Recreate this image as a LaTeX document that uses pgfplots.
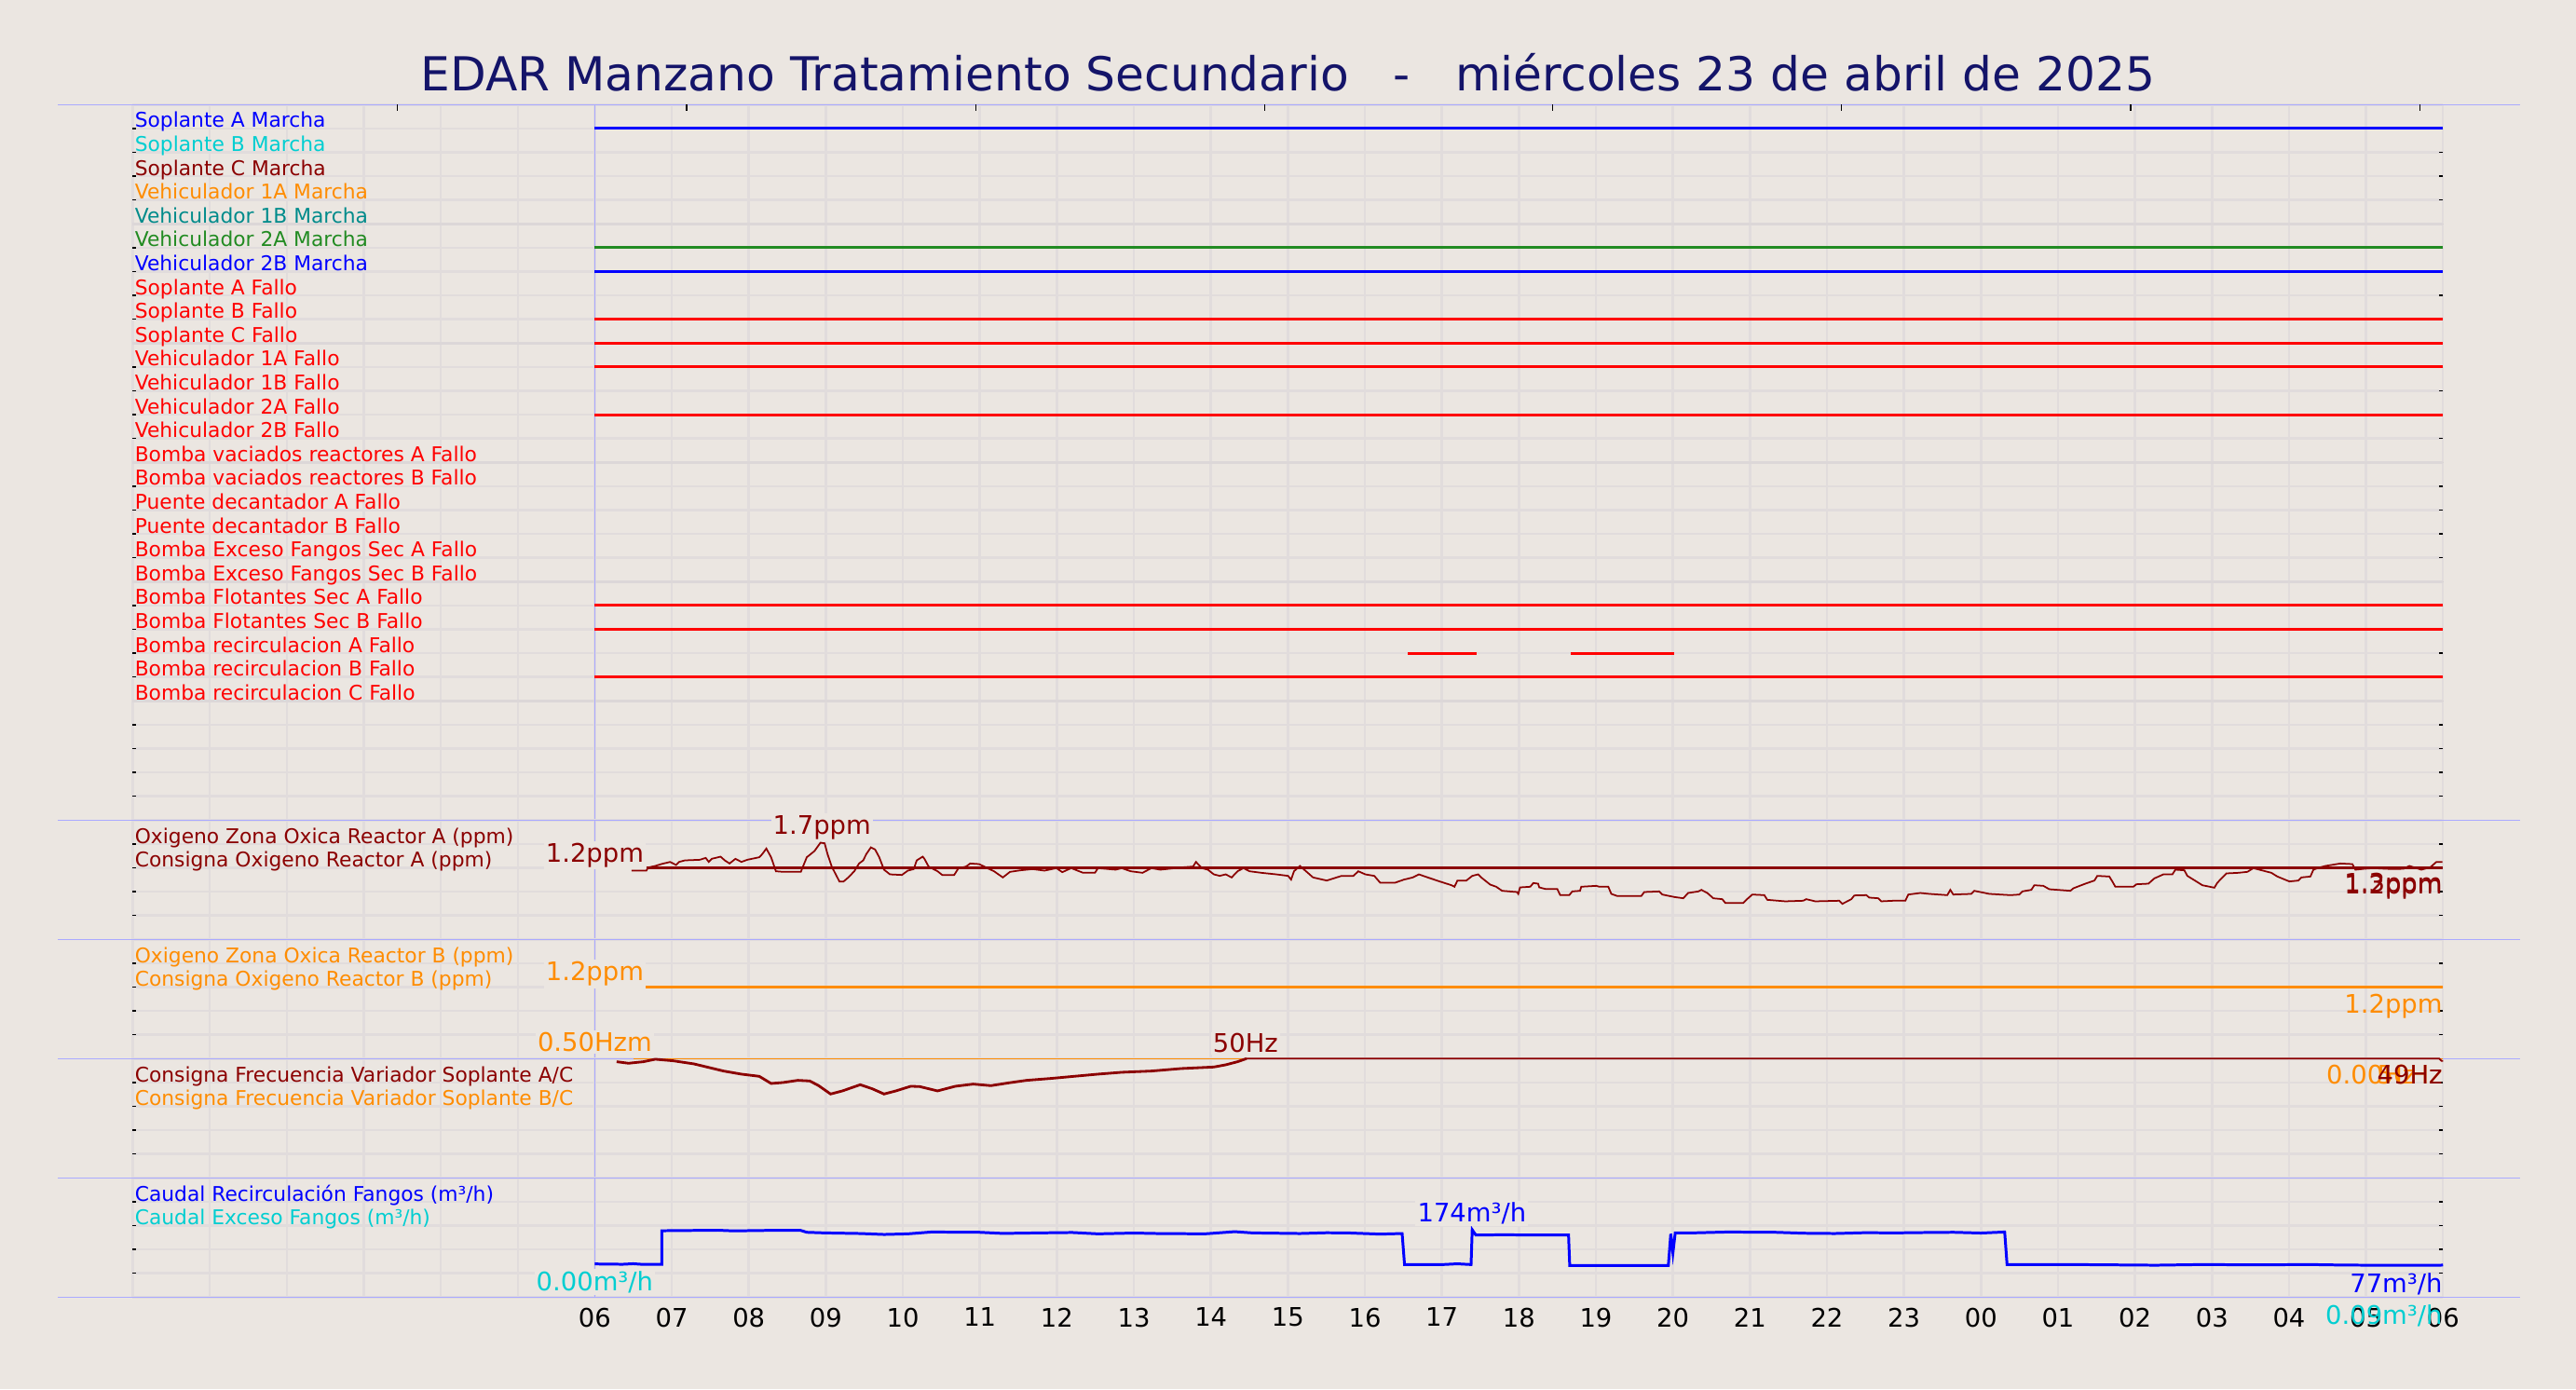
\documentclass[border=0pt]{standalone}
\usepackage{pgfplots}
\pgfplotsset{compat=1.18}
\usepackage{fontspec}
\setmainfont{DejaVu Sans}
\definecolor{bgc}{RGB}{235,230,225}
\definecolor{gridc}{RGB}{225,220,220}
\definecolor{gridm}{RGB}{220,215,216}
\definecolor{sepc}{RGB}{170,170,255}
\definecolor{dred}{RGB}{139,0,0}
\definecolor{dorange}{RGB}{255,140,0}
\definecolor{dturq}{RGB}{0,206,209}
\definecolor{dcyan}{RGB}{0,139,139}
\definecolor{fgreen}{RGB}{34,139,34}
\definecolor{titc}{RGB}{20,20,105}
\newcommand{\lab}{\fontsize{6.2pt}{7pt}\selectfont}
\newcommand{\ann}{\fontsize{7.8pt}{9pt}\selectfont}
\pgfplotsset{
  panel/.style={
    scale only axis, width=24.798cm, anchor=south west,
    xmin=-6, xmax=24, clip=false,
    axis line style={draw=none},
    xtick={-6,...,24}, xticklabels={},
    grid=major, grid style={gridc, line width=0.7pt},
    xtick style={draw=none},
    ytick pos=both, ytick style={black, line width=0.35pt},
    major tick length=0.4mm,
    yticklabels={},
  },
}
\tikzset{
  lbl/.style={anchor=base west, inner sep=0pt, font=\lab},
  ann/.style={inner sep=0.6pt, font=\ann},
  sig/.style={line width=0.85pt},
}
\begin{document}
\begin{tikzpicture}
\fill[bgc] (0,0) rectangle (27.65,14.91);
\node[anchor=base, inner sep=0pt, font=\fontsize{14.3pt}{17pt}\selectfont, text=titc] at (13.825,13.93) {EDAR Manzano Tratamiento Secundario\ \ \ -\ \ \ miércoles 23 de abril de 2025};

% ---------------- Panel 1: digital signals ----------------
\begin{axis}[panel, at={(1.4244cm,6.107cm)}, height=7.68cm, ymin=0, ymax=30, ytick={0,...,30}]
\draw[gridm, line width=0.95pt] (axis cs:-6,25) -- (axis cs:24,25);
\draw[gridm, line width=0.95pt] (axis cs:-6,20) -- (axis cs:24,20);
\draw[gridm, line width=0.95pt] (axis cs:-6,15) -- (axis cs:24,15);
\draw[gridm, line width=0.95pt] (axis cs:-6,10) -- (axis cs:24,10);
\draw[gridm, line width=0.95pt] (axis cs:-6,5) -- (axis cs:24,5);
\draw[sepc, line width=0.45pt] (rel axis cs:-0.0323,1) -- (rel axis cs:1.0333,1);
\draw[sepc, line width=0.4pt] (rel axis cs:0.2,0) -- (rel axis cs:0.2,1);
\draw[black, line width=0.35pt] (axis cs:-2.561,30) -- ++(0pt,-0.7mm);
\draw[black, line width=0.35pt] (axis cs:1.194,30) -- ++(0pt,-0.7mm);
\draw[black, line width=0.35pt] (axis cs:4.948,30) -- ++(0pt,-0.7mm);
\draw[black, line width=0.35pt] (axis cs:8.703,30) -- ++(0pt,-0.7mm);
\draw[black, line width=0.35pt] (axis cs:12.437,30) -- ++(0pt,-0.7mm);
\draw[black, line width=0.35pt] (axis cs:16.19,30) -- ++(0pt,-0.7mm);
\draw[black, line width=0.35pt] (axis cs:19.945,30) -- ++(0pt,-0.7mm);
\draw[black, line width=0.35pt] (axis cs:23.70,30) -- ++(0pt,-0.7mm);
% signal states (on = line at the row level)
\addplot[blue, sig] coordinates {(0,29) (24,29)};
\addplot[fgreen, sig] coordinates {(0,24) (24,24)};
\addplot[blue, sig] coordinates {(0,23) (24,23)};
\addplot[red, sig] coordinates {(0,21) (24,21)};
\addplot[red, sig] coordinates {(0,20) (24,20)};
\addplot[red, sig] coordinates {(0,19) (24,19)};
\addplot[red, sig] coordinates {(0,17) (24,17)};
\addplot[red, sig] coordinates {(0,9) (24,9)};
\addplot[red, sig] coordinates {(0,8) (24,8)};
\addplot[red, sig] coordinates {(10.56,7) (11.456,7)};
\addplot[red, sig] coordinates {(12.672,7) (14.016,7)};
\addplot[red, sig] coordinates {(0,6) (24,6)};
\node[lbl, text=blue] at (axis cs:-5.98,29.04) {Soplante A Marcha};
\node[lbl, text=dturq] at (axis cs:-5.98,28.04) {Soplante B Marcha};
\node[lbl, text=dred] at (axis cs:-5.98,27.04) {Soplante C Marcha};
\node[lbl, text=dorange] at (axis cs:-5.98,26.04) {Vehiculador 1A Marcha};
\node[lbl, text=dcyan] at (axis cs:-5.98,25.04) {Vehiculador 1B Marcha};
\node[lbl, text=fgreen] at (axis cs:-5.98,24.04) {Vehiculador 2A Marcha};
\node[lbl, text=blue] at (axis cs:-5.98,23.04) {Vehiculador 2B Marcha};
\node[lbl, text=red] at (axis cs:-5.98,22.04) {Soplante A Fallo};
\node[lbl, text=red] at (axis cs:-5.98,21.04) {Soplante B Fallo};
\node[lbl, text=red] at (axis cs:-5.98,20.04) {Soplante C Fallo};
\node[lbl, text=red] at (axis cs:-5.98,19.04) {Vehiculador 1A Fallo};
\node[lbl, text=red] at (axis cs:-5.98,18.04) {Vehiculador 1B Fallo};
\node[lbl, text=red] at (axis cs:-5.98,17.04) {Vehiculador 2A Fallo};
\node[lbl, text=red] at (axis cs:-5.98,16.04) {Vehiculador 2B Fallo};
\node[lbl, text=red] at (axis cs:-5.98,15.04) {Bomba vaciados reactores A Fallo};
\node[lbl, text=red] at (axis cs:-5.98,14.04) {Bomba vaciados reactores B Fallo};
\node[lbl, text=red] at (axis cs:-5.98,13.04) {Puente decantador A Fallo};
\node[lbl, text=red] at (axis cs:-5.98,12.04) {Puente decantador B Fallo};
\node[lbl, text=red] at (axis cs:-5.98,11.04) {Bomba Exceso Fangos Sec A Fallo};
\node[lbl, text=red] at (axis cs:-5.98,10.04) {Bomba Exceso Fangos Sec B Fallo};
\node[lbl, text=red] at (axis cs:-5.98,9.04) {Bomba Flotantes Sec A Fallo};
\node[lbl, text=red] at (axis cs:-5.98,8.04) {Bomba Flotantes Sec B Fallo};
\node[lbl, text=red] at (axis cs:-5.98,7.04) {Bomba recirculacion A Fallo};
\node[lbl, text=red] at (axis cs:-5.98,6.04) {Bomba recirculacion B Fallo};
\node[lbl, text=red] at (axis cs:-5.98,5.04) {Bomba recirculacion C Fallo};
\end{axis}

% ---------------- Panel 2: Oxygen reactor A ----------------
\begin{axis}[panel, at={(1.4244cm,4.827cm)}, height=1.28cm, ymin=-0.222, ymax=2.148,
  ytick={-0.222,0.252,0.726,1.2,1.674,2.148}]
\draw[sepc, line width=0.45pt] (rel axis cs:-0.0323,1) -- (rel axis cs:1.0333,1);
\draw[sepc, line width=0.4pt] (rel axis cs:0.2,0) -- (rel axis cs:0.2,1);
\addplot[dred, line width=0.8pt] coordinates {(0.67,1.2) (24,1.2)};
\addplot[dred, line width=0.5pt] coordinates {
(0.477,1.144) (0.670,1.144) (0.693,1.206) (0.785,1.237) (0.863,1.274) (0.978,1.317) (1.056,1.256) (1.094,1.317)
(1.171,1.348) (1.364,1.360) (1.441,1.397) (1.480,1.317) (1.519,1.379) (1.634,1.422) (1.688,1.348) (1.750,1.286)
(1.827,1.379) (1.904,1.317) (1.981,1.360) (2.136,1.410) (2.174,1.471) (2.228,1.583) (2.290,1.410) (2.352,1.132)
(2.444,1.120) (2.676,1.120) (2.753,1.410) (2.853,1.533) (2.931,1.700) (2.985,1.687) (3.023,1.471) (3.077,1.225)
(3.139,1.040) (3.177,0.929) (3.231,0.929) (3.293,1.009) (3.370,1.132) (3.432,1.286) (3.486,1.348) (3.525,1.471)
(3.586,1.607) (3.640,1.564) (3.694,1.410) (3.756,1.163) (3.833,1.070) (3.988,1.058) (4.065,1.144) (4.142,1.175)
(4.181,1.348) (4.258,1.422) (4.281,1.379) (4.335,1.225) (4.451,1.132) (4.512,1.058) (4.667,1.058) (4.721,1.188)
(4.821,1.225) (4.875,1.286) (4.991,1.274) (5.106,1.188) (5.184,1.132) (5.299,1.009) (5.392,1.120) (5.531,1.151)
(5.685,1.175) (5.840,1.144) (5.994,1.194) (6.071,1.114) (6.187,1.194) (6.341,1.101) (6.495,1.101) (6.534,1.194)
(6.765,1.163) (6.843,1.194) (6.958,1.132) (7.113,1.101) (7.228,1.194) (7.344,1.163) (7.537,1.194) (7.653,1.212)
(7.769,1.225) (7.807,1.317) (7.884,1.194) (7.961,1.163) (8.039,1.070) (8.116,1.040) (8.193,1.070) (8.270,1.009)
(8.347,1.132) (8.424,1.194) (8.501,1.132) (8.656,1.101) (8.849,1.070) (9.003,1.040) (9.042,0.966) (9.080,1.132)
(9.157,1.237) (9.327,1.009) (9.505,0.947) (9.698,1.040) (9.852,1.040) (9.914,1.132) (10.006,1.070) (10.122,1.040)
(10.199,0.904) (10.392,0.904) (10.508,0.966) (10.624,1.009) (10.701,1.070) (10.816,1.009) (10.972,0.929) (11.125,0.854)
(11.164,0.824) (11.202,0.947) (11.318,0.947) (11.395,1.040) (11.472,1.070) (11.511,1.009) (11.627,0.867) (11.705,0.824)
(11.782,0.743) (11.975,0.719) (11.992,0.682) (12.015,0.811) (12.148,0.824) (12.187,0.898) (12.249,0.885) (12.265,0.811)
(12.343,0.780) (12.498,0.780) (12.537,0.657) (12.654,0.657) (12.693,0.731) (12.794,0.743) (12.810,0.824) (13.005,0.842)
(13.044,0.824) (13.161,0.824) (13.200,0.682) (13.278,0.639) (13.589,0.639) (13.628,0.719) (13.823,0.731) (13.862,0.669)
(14.018,0.620) (14.135,0.595) (14.197,0.700) (14.330,0.731) (14.369,0.762) (14.447,0.700) (14.524,0.595) (14.641,0.577)
(14.680,0.503) (14.914,0.503) (14.953,0.564) (15.031,0.669) (15.187,0.657) (15.226,0.564) (15.459,0.534) (15.693,0.546)
(15.732,0.577) (15.849,0.534) (16.161,0.546) (16.200,0.484) (16.317,0.577) (16.356,0.651) (16.511,0.657) (16.550,0.608)
(16.667,0.595) (16.706,0.534) (16.862,0.546) (17.018,0.546) (17.057,0.669) (17.213,0.700) (17.330,0.682) (17.563,0.657)
(17.602,0.762) (17.641,0.669) (17.875,0.682) (17.914,0.743) (18.109,0.682) (18.382,0.657) (18.498,0.669) (18.537,0.731)
(18.654,0.762) (18.693,0.854) (18.810,0.842) (18.888,0.774) (19.161,0.743) (19.200,0.793) (19.356,0.885) (19.473,0.947)
(19.511,1.040) (19.667,1.027) (19.706,0.929) (19.745,0.824) (19.979,0.824) (20.018,0.873) (20.174,0.885) (20.252,0.990)
(20.369,1.070) (20.486,1.070) (20.525,1.163) (20.641,1.151) (20.680,1.040) (20.797,0.929) (20.875,0.854) (21.031,0.805)
(21.070,0.904) (21.187,1.089) (21.343,1.101) (21.460,1.120) (21.537,1.194) (21.615,1.163) (21.771,1.101) (21.849,1.027)
(22.005,0.929) (22.122,0.947) (22.161,1.009) (22.278,1.027) (22.317,1.163) (22.395,1.206) (22.473,1.237) (22.667,1.286)
(22.823,1.274) (22.862,1.163) (22.979,1.181) (23.096,1.194) (23.252,1.181) (23.369,1.175) (23.486,1.181) (23.564,1.237)
(23.719,1.163) (23.836,1.212) (23.914,1.317) (23.992,1.317)};
\node[lbl, text=dred] at (rel axis cs:0.00067,0.805) {Oxigeno Zona Oxica Reactor A (ppm)};
\node[lbl, text=dred] at (rel axis cs:0.00067,0.605) {Consigna Oxigeno Reactor A (ppm)};
\node[ann, anchor=base, fill=bgc, text=dred] at (axis cs:0,1.2) [yshift=0.65mm] {1.2ppm};
\node[ann, anchor=base, fill=bgc, text=dred] at (axis cs:2.95,1.7) [yshift=0.93mm] {1.7ppm};
\node[ann, anchor=base east, inner sep=0pt, text=dred] at (axis cs:24,1.2) [yshift=-2.55mm] {1.3ppm};
\node[ann, anchor=base east, inner sep=0pt, text=dred] at (axis cs:24,1.2) [yshift=-2.75mm] {1.2ppm};
\end{axis}

% ---------------- Panel 3: Oxygen reactor B ----------------
\begin{axis}[panel, at={(1.4244cm,3.547cm)}, height=1.28cm, ymin=-0.222, ymax=2.148,
  ytick={-0.222,0.252,0.726,1.2,1.674,2.148}]
\draw[sepc, line width=0.45pt] (rel axis cs:-0.0323,1) -- (rel axis cs:1.0333,1);
\draw[sepc, line width=0.4pt] (rel axis cs:0.2,0) -- (rel axis cs:0.2,1);
\addplot[dorange, line width=0.75pt] coordinates {(0.66,1.2) (24,1.2)};
\node[lbl, text=dorange] at (rel axis cs:0.00067,0.805) {Oxigeno Zona Oxica Reactor B (ppm)};
\node[lbl, text=dorange] at (rel axis cs:0.00067,0.605) {Consigna Oxigeno Reactor B (ppm)};
\node[ann, anchor=base, fill=bgc, text=dorange] at (axis cs:0,1.2) [yshift=0.68mm] {1.2ppm};
\node[ann, anchor=base east, inner sep=0pt, text=dorange] at (axis cs:24,1.2) [yshift=-2.82mm] {1.2ppm};
\end{axis}

% ---------------- Panel 4: blower frequency ----------------
\begin{axis}[panel, at={(1.4244cm,2.267cm)}, height=1.28cm, ymin=0, ymax=50,
  ytick={0,10,...,50}]
\draw[sepc, line width=0.45pt] (rel axis cs:-0.0323,1) -- (rel axis cs:1.0333,1);
\draw[sepc, line width=0.4pt] (rel axis cs:0.2,0) -- (rel axis cs:0.2,1);
\addplot[dorange, line width=0.4pt] coordinates {(0.5,50) (24,50)};
\addplot[dred, line width=0.8pt] coordinates {
(0.284,48.70) (0.438,48.05) (0.631,48.70) (0.786,49.74) (1.017,49.09) (1.287,47.79) (1.673,44.79) (1.904,43.49)
(2.136,42.58) (2.290,39.58) (2.444,39.97) (2.637,40.89) (2.792,40.63) (2.907,38.67) (3.062,35.16) (3.216,36.46)
(3.447,39.06) (3.602,37.37) (3.756,35.16) (3.910,36.46) (4.103,38.41) (4.219,38.28) (4.451,36.46) (4.682,38.41)
(4.914,39.32) (5.145,38.67) (5.377,39.84) (5.608,40.89) (5.917,41.67) (6.225,42.58) (6.534,43.49) (6.843,44.27)
(7.229,44.79) (7.614,45.83) (8.039,46.48) (8.193,47.40) (8.347,48.70) (8.463,50)};
\addplot[dred, line width=0.5pt] coordinates {(8.463,50) (23.95,50) (23.98,49) (24,49)};
\node[lbl, text=dred] at (rel axis cs:0.00067,0.805) {Consigna Frecuencia Variador Soplante A/C};
\node[lbl, text=dorange] at (rel axis cs:0.00067,0.605) {Consigna Frecuencia Variador Soplante B/C};
\node[ann, anchor=base, fill=bgc, text=dorange] at (axis cs:0,50) [yshift=0.77mm] {0.50Hzm};
\node[ann, anchor=base, fill=bgc, text=dred] at (axis cs:8.45,50) [yshift=0.63mm] {50Hz};
\node[ann, anchor=base east, inner sep=0pt, text=dorange] at (axis cs:23.658,50) [yshift=-2.77mm] {0.00Hz};
\node[ann, anchor=base east, inner sep=0pt, text=dorange] at (axis cs:24,50) [yshift=-2.77mm] {50Hz};
\node[ann, anchor=base east, inner sep=0pt, text=dred] at (axis cs:24,50) [yshift=-2.77mm] {49Hz};
\end{axis}

% ---------------- Panel 5: sludge flows ----------------
\begin{axis}[panel, at={(1.4244cm,0.987cm)}, height=1.28cm, ymin=-12.1, ymax=317.5,
  ytick={-12.1,53.82,119.74,185.66,251.58,317.5},
  xticklabels={,,,,,,06,07,08,09,10,11,12,13,14,15,16,17,18,19,20,21,22,23,00,01,02,03,04,05,06},
  xticklabel style={font=\ann, inner sep=0pt, yshift=-1.07mm}]
\draw[sepc, line width=0.45pt] (rel axis cs:-0.0323,1) -- (rel axis cs:1.0333,1);
\draw[sepc, line width=0.45pt] (rel axis cs:-0.0323,0) -- (rel axis cs:1.0333,0);
\draw[sepc, line width=0.4pt] (rel axis cs:0.2,0) -- (rel axis cs:0.2,1);
\addplot[blue, line width=0.85pt] coordinates {
(0,79.6) (0.361,78.7) (0.5,80.2) (0.6,78.7) (0.871,78.7) (0.871,171.4) (1.287,172.2) (1.596,172.8) (1.8,171.0) (2.213,172.2) (2.676,172.2)
(2.753,167.1) (2.985,165.4) (3.448,163.7) (3.757,161.1) (4.065,162.8) (4.373,167.9) (4.991,167.1)
(5.3,164.0) (5.763,165.4) (6.2,166.5) (6.534,162.8) (7.0,165.0) (7.306,163.7) (7.923,162.8) (8.309,168.8) (8.540,165.4)
(9.157,163.7) (9.5,165.8) (9.775,165.4) (10.2,162.0) (10.484,163.7) (10.515,77.9) (11.009,77.9) (11.2,80.0) (11.379,77.9)
(11.394,174.0) (11.441,159.4) (11.8,160.2) (12.243,159.4) (12.645,159.4) (12.660,75.3) (13.324,75.3) (13.941,75.3)
(13.972,162.8) (14.0,110) (14.03,165.4) (14.250,165.4) (14.712,167.9) (15.330,167.1) (15.7,164.5) (16.101,163.7)
(16.5,166.0) (16.873,165.4) (17.3,166.5) (17.645,167.1) (18.0,165.0) (18.308,167.9) (18.339,77.9) (19.188,77.9)
(20.268,76.1) (20.9,78.0) (21.503,77.0) (22.274,77.9) (22.7,76.5) (23.046,76.1) (23.972,76.1) (24,77)};
\node[lbl, text=blue] at (rel axis cs:0.00067,0.805) {Caudal Recirculación Fangos (m³/h)};
\node[lbl, text=dturq] at (rel axis cs:0.00067,0.605) {Caudal Exceso Fangos (m³/h)};
\node[ann, anchor=base, fill=bgc, text=dturq] at (axis cs:0,-12.1) [yshift=0.73mm] {0.00m³/h};
\node[ann, anchor=base, fill=bgc, text=blue] at (axis cs:11.39,174) [yshift=0.83mm] {174m³/h};
\node[ann, anchor=base east, inner sep=0pt, text=blue] at (axis cs:24,-12.1) [yshift=0.53mm] {77m³/h};
\node[ann, anchor=base east, inner sep=0pt, text=dturq] at (axis cs:24,-12.1) [yshift=-2.94mm] {0.09m³/h};
\end{axis}
\end{tikzpicture}
\end{document}
